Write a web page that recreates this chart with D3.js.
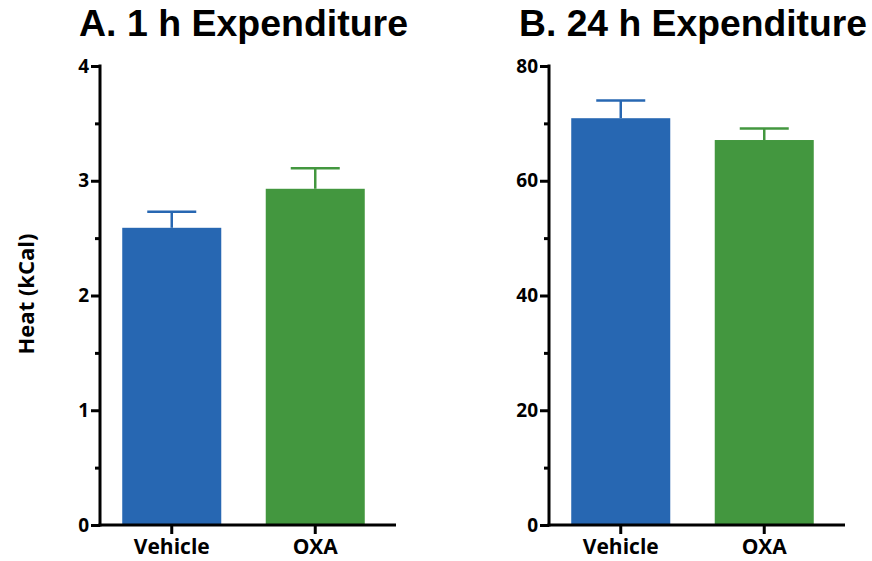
<!DOCTYPE html>
<html>
<head>
<meta charset="utf-8">
<script src="https://cdn.jsdelivr.net/npm/d3@7"></script>
<style>
  html, body { margin: 0; padding: 0; background: #fff; }
  svg { display: block; }
</style>
</head>
<body>
<svg id="chart" width="872" height="561"></svg>
<script>
// Groups and measured energy expenditure (mean ± SEM)
const categories = ["Vehicle", "OXA"];
const hour1Mean = [2.59, 2.93];
const hour1Sem = [0.14, 0.18];
const hour24Mean = [70.9, 67.1];
const hour24Sem = [3.1, 2.0];

const hour1Ticks = [0, 1, 2, 3, 4];
const hour1Minor = [0.5, 1.5, 2.5, 3.5];
const hour24Ticks = [0, 20, 40, 60, 80];
const hour24Minor = [10, 30, 50, 70];

const barColors = ["#2767B2", "#43973F"];
const labelFont = "'Open Sans', 'DejaVu Sans', sans-serif";
const titleFont = "'Liberation Sans', Arial, sans-serif";

const svg = d3.select("#chart");

function drawPanel(opts) {
  const { x0, title, titleX, titleLen, means, sems, yMax, major, minor } = opts;
  const yBottom = 525, yTop = 66;
  const y = d3.scaleLinear().domain([0, yMax]).range([yBottom, yTop]);
  const x = d3.scaleBand().domain(categories)
    .range([x0, x0 + 287]).paddingInner(0.31).paddingOuter(0.155);

  const g = svg.append("g");

  // bars
  g.selectAll("rect.bar").data(categories).join("rect")
    .attr("class", "bar")
    .attr("x", d => x(d))
    .attr("width", x.bandwidth())
    .attr("y", (d, i) => y(means[i]))
    .attr("height", (d, i) => y(0) - y(means[i]))
    .attr("fill", (d, i) => barColors[i]);

  // upper error bars
  const capHalf = 24.5;
  const err = g.selectAll("g.err").data(categories).join("g").attr("class", "err")
    .attr("stroke", (d, i) => barColors[i]).attr("stroke-width", 2.5);
  err.append("line")
    .attr("x1", d => x(d) + x.bandwidth() / 2)
    .attr("x2", d => x(d) + x.bandwidth() / 2)
    .attr("y1", (d, i) => y(means[i]))
    .attr("y2", (d, i) => y(means[i] + sems[i]));
  err.append("line")
    .attr("x1", d => x(d) + x.bandwidth() / 2 - capHalf)
    .attr("x2", d => x(d) + x.bandwidth() / 2 + capHalf)
    .attr("y1", (d, i) => y(means[i] + sems[i]))
    .attr("y2", (d, i) => y(means[i] + sems[i]));

  // y axis with major and minor ticks
  const yAxis = g.append("g").attr("transform", `translate(${x0},0)`)
    .call(d3.axisLeft(y).tickValues(major).tickSize(9).tickPadding(2).tickFormat(d3.format("d")));
  yAxis.select(".domain").remove();
  yAxis.selectAll(".tick line").attr("stroke", "#000").attr("stroke-width", 3);
  yAxis.selectAll(".tick text")
    .attr("fill", "#000")
    .style("font-family", labelFont).style("font-weight", "700").style("font-size", "19px");
  const yMinor = g.append("g").attr("transform", `translate(${x0},0)`)
    .call(d3.axisLeft(y).tickValues(minor).tickSize(5).tickFormat(""));
  yMinor.select(".domain").remove();
  yMinor.selectAll(".tick line").attr("stroke", "#000").attr("stroke-width", 3);

  g.append("line")
    .attr("x1", x0).attr("x2", x0)
    .attr("y1", y(yMax) - 1.5).attr("y2", yBottom + 1.5)
    .attr("stroke", "#000").attr("stroke-width", 3);

  // x axis
  const xAxis = g.append("g").attr("transform", `translate(0,${yBottom})`)
    .call(d3.axisBottom(x).tickSize(9).tickPadding(5));
  xAxis.select(".domain").remove();
  xAxis.selectAll(".tick line").attr("stroke", "#000").attr("stroke-width", 3);
  xAxis.selectAll(".tick text")
    .attr("fill", "#000")
    .style("font-family", labelFont).style("font-weight", "700").style("font-size", "21px");
  g.append("line")
    .attr("x1", x0 - 1.5).attr("x2", x0 + 296)
    .attr("y1", yBottom).attr("y2", yBottom)
    .attr("stroke", "#000").attr("stroke-width", 3);

  // panel title
  svg.append("text")
    .attr("x", titleX).attr("y", 36)
    .attr("textLength", titleLen).attr("lengthAdjust", "spacingAndGlyphs")
    .style("font-family", titleFont).style("font-weight", "700").style("font-size", "37px")
    .attr("fill", "#000")
    .text(title);
}

drawPanel({ x0: 100, title: "A. 1 h Expenditure", titleX: 79, titleLen: 329,
  means: hour1Mean, sems: hour1Sem, yMax: 4, major: hour1Ticks, minor: hour1Minor });
drawPanel({ x0: 549, title: "B. 24 h Expenditure", titleX: 519, titleLen: 348,
  means: hour24Mean, sems: hour24Sem, yMax: 80, major: hour24Ticks, minor: hour24Minor });

// shared y-axis label
svg.append("text")
  .attr("transform", "translate(34,294) rotate(-90)")
  .attr("text-anchor", "middle")
  .style("font-family", labelFont).style("font-weight", "700").style("font-size", "22px")
  .attr("fill", "#000")
  .text("Heat (kCal)");
</script>
</body>
</html>
